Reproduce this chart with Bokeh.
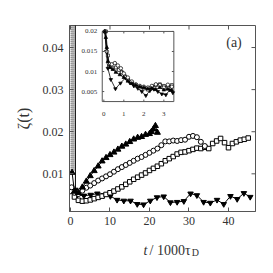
from bokeh.plotting import figure
from bokeh.models import Range1d, FixedTicker
from bokeh.layouts import column
from bokeh.core.properties import value
from bokeh.embed import file_html
from bokeh.resources import INLINE

# ---------------- data ----------------
# main panel: t / 1000 tau_D  vs  zeta(t)
up_t = [0.4, 1, 2, 3, 4, 5, 6, 7, 8, 9, 10, 11, 12, 13, 14, 15, 16, 17, 18, 19, 20, 20.5, 21, 21.5, 22]
up_z = [0.0103, 0.0058, 0.0055, 0.0068, 0.0082, 0.0095, 0.0107, 0.0118, 0.0130, 0.0138, 0.0145,
        0.0151, 0.0158, 0.0165, 0.0170, 0.0176, 0.0182, 0.0186, 0.0188, 0.0193, 0.0195, 0.0200,
        0.0206, 0.0214, 0.0198]

circ_t = [0.3] + list(range(1, 35))
circ_z = [0.0068, 0.0055, 0.0052, 0.0060, 0.0067, 0.0072, 0.0078, 0.0084, 0.0089, 0.0094, 0.0099,
          0.0105, 0.0111, 0.0116, 0.0121, 0.0126, 0.0131, 0.0136, 0.0140, 0.0145, 0.0150, 0.0155,
          0.0160, 0.0168, 0.0177, 0.0177, 0.0179, 0.0178, 0.0180, 0.0181, 0.0188, 0.0190, 0.0187,
          0.0176, 0.0166]

sq_t = [0.3] + list(range(1, 46))
sq_z = [0.0058, 0.0045, 0.0037, 0.0035, 0.0036, 0.0038, 0.0041, 0.0044, 0.0047, 0.0051, 0.0055,
        0.0059, 0.0064, 0.0069, 0.0075, 0.0081, 0.0087, 0.0092, 0.0097, 0.0102, 0.0108, 0.0113,
        0.0118, 0.0124, 0.0131, 0.0136, 0.0141, 0.0147, 0.0151, 0.0152, 0.0155, 0.0158, 0.0161,
        0.0160, 0.0163, 0.0160, 0.0172, 0.0178, 0.0184, 0.0174, 0.0162, 0.0172, 0.0176, 0.0180,
        0.0182, 0.0185]

dn_t = [1.2, 1.25, 1.7, 3.4, 5.1, 6.8, 8.4, 10.1, 11.8, 13.5, 15.2, 16.9, 18.5, 20.2, 21.9, 23.6,
        25.3, 27.0, 28.7, 30.4, 32.0, 33.7, 35.4, 37.1, 38.8, 40.5, 42.2, 43.9, 45.5]
dn_z = [0.08, 0.0062, 0.0050, 0.0048, 0.0050, 0.0053, 0.0049, 0.0047, 0.0038, 0.0036, 0.0036,
        0.0028, 0.0027, 0.0036, 0.0044, 0.0046, 0.0032, 0.0033, 0.0035, 0.0053, 0.0049, 0.0033,
        0.0031, 0.0038, 0.0028, 0.0047, 0.0040, 0.0054, 0.0045]

# very early times (off-scale burst near t = 0)
early_t = [0.15, 0.4, 0.65, 0.9]
early_lo = [0.0105, 0.0110, 0.0110, 0.0108]
early_hi = [0.08, 0.08, 0.08, 0.08]

x_ticks = [0, 10, 20, 30, 40]
y_ticks = [0.01, 0.02, 0.03, 0.04]

# inset: short-time behaviour
i_up_t = [0.05, 0.1, 0.15, 0.2, 0.3, 0.45, 0.6, 0.8, 1.0, 1.2, 1.4, 1.6, 1.8, 2.0, 2.2, 2.4, 2.6, 2.8, 3.0, 3.2, 3.4]
i_up_z = [0.0200, 0.0185, 0.0160, 0.0125, 0.0110, 0.0105, 0.0098, 0.0092, 0.0085, 0.0076, 0.0070,
          0.0066, 0.0062, 0.0060, 0.0057, 0.0058, 0.0055, 0.0060, 0.0054, 0.0056, 0.0053]
i_circ_t = [0.05, 0.15, 0.25, 0.4, 0.55, 0.7, 0.85, 1.0, 1.2, 1.4, 1.6, 1.8, 2.0, 2.2, 2.4, 2.6, 2.8, 3.0, 3.2, 3.4]
i_circ_z = [0.0200, 0.0150, 0.0120, 0.0118, 0.0121, 0.0115, 0.0108, 0.0095, 0.0085, 0.0075, 0.0068,
            0.0064, 0.0062, 0.0060, 0.0064, 0.0068, 0.0066, 0.0060, 0.0067, 0.0062]
i_sq_t = [0.1, 0.2, 0.3, 0.45, 0.6, 0.75, 0.9, 1.05, 1.2, 1.4, 1.6, 1.8, 2.0, 2.2, 2.4, 2.6, 2.8, 3.0, 3.2, 3.4]
i_sq_z = [0.0200, 0.0140, 0.0112, 0.0108, 0.0110, 0.0104, 0.0098, 0.0088, 0.0080, 0.0072, 0.0066,
          0.0060, 0.0058, 0.0055, 0.0060, 0.0066, 0.0068, 0.0064, 0.0060, 0.0066]
i_dn_t = [0.05, 0.12, 0.2, 0.35, 0.58, 0.83, 1.08, 1.3, 1.5, 1.7, 1.9, 2.1, 2.3, 2.5, 2.7, 2.9, 3.1, 3.3, 3.45]
i_dn_z = [0.0200, 0.0150, 0.0108, 0.0080, 0.0057, 0.0071, 0.0084, 0.0072, 0.0064, 0.0058, 0.0050,
          0.0040, 0.0052, 0.0056, 0.0050, 0.0044, 0.0042, 0.0054, 0.0047]

inset_x_ticks = [0, 1, 2, 3]
inset_x_labels = ["0", "1", "2", "3"]
inset_y_ticks = [0.005, 0.01, 0.015, 0.02]
inset_y_labels = ["0.005", "0.01", "0.015", "0.02"]

# ---------------- layout constants ----------------
X_RANGE = (-0.253, 46.84)
Y_RANGE = (0.00105, 0.04523)
INSET_T = (-0.08, 3.5)
INSET_Z = (0.0025, 0.02)
INSET_FX = (0.176, 0.561)   # inset box as fraction of main frame (x)
INSET_FY = (0.591, 0.968)   # inset box as fraction of main frame (y, from bottom)
FRAME_PX = 186
BORDER_L, BORDER_R = 69, 18

FONT = "Liberation Serif"
AX_COL = "#555555"
TXT_COL = "#333333"

p = figure(width=273, height=240, output_backend="svg", toolbar_location=None,
           x_range=Range1d(*X_RANGE), y_range=Range1d(*Y_RANGE),
           min_border_left=BORDER_L, min_border_right=BORDER_R, min_border_top=25, min_border_bottom=29)
p.outline_line_color = AX_COL
p.grid.visible = False
p.background_fill_color = "white"
p.border_fill_color = "white"

for ax, ticks, stand in [(p.xaxis[0], x_ticks, 5), (p.yaxis[0], y_ticks, 6)]:
    ax.ticker = FixedTicker(ticks=ticks)
    ax.axis_line_color = AX_COL
    ax.major_tick_line_color = AX_COL
    ax.major_tick_in = 4
    ax.major_tick_out = 0
    ax.minor_tick_line_color = None
    ax.major_label_text_font = FONT
    ax.major_label_text_color = TXT_COL
    ax.major_label_text_font_size = "12px"
    ax.major_label_standoff = stand

p.yaxis[0].axis_label = "ζ(t)"
p.yaxis[0].axis_label_text_font = FONT
p.yaxis[0].axis_label_text_font_size = "16px"
p.yaxis[0].axis_label_text_font_style = "normal"
p.yaxis[0].axis_label_text_color = TXT_COL
p.yaxis[0].axis_label_standoff = 8

# mirrored inward ticks on top and right edges (4 px long)
tick_dx = 4 * (X_RANGE[1] - X_RANGE[0]) / FRAME_PX
tick_dy = 4 * (Y_RANGE[1] - Y_RANGE[0]) / FRAME_PX
p.segment(x0=x_ticks, y0=[Y_RANGE[1]] * len(x_ticks), x1=x_ticks,
          y1=[Y_RANGE[1] - tick_dy] * len(x_ticks), line_color=AX_COL)
p.segment(x0=[X_RANGE[1]] * len(y_ticks), y0=y_ticks, x1=[X_RANGE[1] - tick_dx] * len(y_ticks),
          y1=y_ticks, line_color=AX_COL)

# ---------------- main data ----------------
p.segment(x0=early_t, y0=early_lo, x1=early_t, y1=early_hi, line_color="#444444",
          line_width=1, line_dash="1 1")

p.line(dn_t, dn_z, line_color="black", line_width=1)
p.scatter(dn_t, dn_z, marker="inverted_triangle", size=5.5, fill_color="black", line_color="black")

p.line(sq_t, sq_z, line_color="black", line_width=1)
p.scatter(sq_t, sq_z, marker="square", size=4.5, fill_color="white", line_color="black")

p.line(circ_t, circ_z, line_color="black", line_width=1)
p.scatter(circ_t, circ_z, marker="circle", size=5, fill_color="white", line_color="black")

p.line(up_t, up_z, line_color="black", line_width=1)
p.scatter(up_t, up_z, marker="triangle", size=6, fill_color="black", line_color="black")

# ---------------- inset ----------------
def ext_range(lo, hi, f0, f1):
    span = (hi - lo) / (f1 - f0)
    start = lo - f0 * span
    return Range1d(start, start + span)

p.extra_x_ranges = {"ix": ext_range(INSET_T[0], INSET_T[1], *INSET_FX)}
p.extra_y_ranges = {"iy": ext_range(INSET_Z[0], INSET_Z[1], *INSET_FY)}
IR = dict(x_range_name="ix", y_range_name="iy")

p.quad(left=[INSET_T[0]], right=[INSET_T[1]], bottom=[INSET_Z[0]], top=[INSET_Z[1]],
       fill_color="white", line_color=AX_COL, line_width=1, **IR)

tx = 2 * (INSET_T[1] - INSET_T[0]) / ((INSET_FX[1] - INSET_FX[0]) * FRAME_PX)
tz = 2 * (INSET_Z[1] - INSET_Z[0]) / ((INSET_FY[1] - INSET_FY[0]) * FRAME_PX)
n_x = len(inset_x_ticks)
n_y = len(inset_y_ticks)
p.segment(x0=inset_x_ticks, y0=[INSET_Z[0]] * n_x, x1=inset_x_ticks, y1=[INSET_Z[0] + tz] * n_x,
          line_color=AX_COL, **IR)
p.segment(x0=inset_x_ticks, y0=[INSET_Z[1]] * n_x, x1=inset_x_ticks, y1=[INSET_Z[1] - tz] * n_x,
          line_color=AX_COL, **IR)
p.segment(x0=[INSET_T[0]] * n_y, y0=inset_y_ticks, x1=[INSET_T[0] + tx] * n_y, y1=inset_y_ticks,
          line_color=AX_COL, **IR)
p.segment(x0=[INSET_T[1]] * n_y, y0=inset_y_ticks, x1=[INSET_T[1] - tx] * n_y, y1=inset_y_ticks,
          line_color=AX_COL, **IR)

p.text(x=inset_x_ticks, y=[INSET_Z[0]] * n_x, text=inset_x_labels, y_offset=12,
       text_align="center", text_baseline="middle", text_font=value(FONT),
       text_font_size="7px", text_color=TXT_COL, **IR)
p.text(x=[INSET_T[0]] * n_y, y=inset_y_ticks, text=inset_y_labels, x_offset=-5,
       text_align="right", text_baseline="middle", text_font=value(FONT),
       text_font_size="7px", text_color=TXT_COL, **IR)

for tt, zz, mk, fc, sz in [(i_dn_t, i_dn_z, "inverted_triangle", "black", 3.5),
                           (i_sq_t, i_sq_z, "square", "white", 3),
                           (i_circ_t, i_circ_z, "circle", "white", 3.5),
                           (i_up_t, i_up_z, "triangle", "black", 3.5)]:
    p.line(tt, zz, line_color="black", line_width=0.8, **IR)
    p.scatter(tt, zz, marker=mk, size=sz, fill_color=fc, line_color="black", line_width=0.7, **IR)

p.text(x=[41.4], y=[0.0412], text=["(a)"], text_align="center", text_baseline="middle",
       text_font=value(FONT), text_font_size="14px", text_color=TXT_COL)

# ---------------- x-axis title strip (shares the main x scale) ----------------
lab = figure(width=273, height=33, output_backend="svg", toolbar_location=None,
             x_range=p.x_range, y_range=Range1d(0, 33),
             min_border_left=BORDER_L, min_border_right=BORDER_R, min_border_top=0, min_border_bottom=0)
lab.axis.visible = False
lab.grid.visible = False
lab.outline_line_color = None
lab.background_fill_color = "white"
lab.border_fill_color = "white"

XL_BASE = 23.5   # baseline height inside the strip
lab.text(x=[18.5], y=[XL_BASE], text=["t"], text_align="left", text_baseline="alphabetic",
         text_font=value(FONT), text_font_style="italic", text_font_size="14px", text_color=TXT_COL)
lab.text(x=[20.0], y=[XL_BASE], text=["/ 1000τ"], text_align="left", text_baseline="alphabetic",
         text_font=value(FONT), text_font_size="14px", text_color=TXT_COL)
lab.text(x=[30.7], y=[XL_BASE - 2], text=["D"], text_align="left", text_baseline="alphabetic",
         text_font=value(FONT), text_font_size="10px", text_color=TXT_COL)

open("out.html", "w").write(file_html(column(p, lab, spacing=0), INLINE))
